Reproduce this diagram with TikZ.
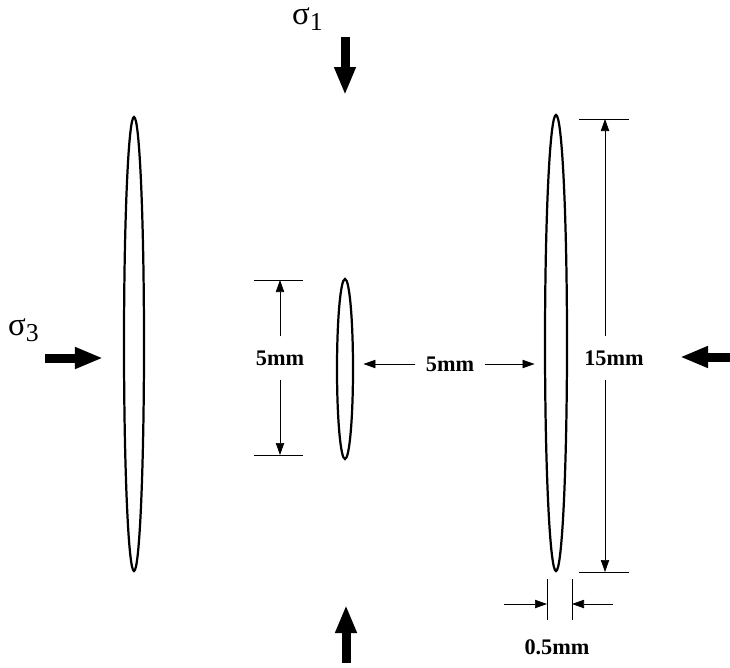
\documentclass[tikz,border=0pt]{standalone}
\usepackage{fontspec}
\setmainfont{Liberation Serif}
\usetikzlibrary{arrows.meta,shapes.geometric}

\newcommand\lowsub[1]{\raisebox{-0.18cm}{\fontsize{22}{22}\selectfont #1}}

\begin{document}
\begin{tikzpicture}[
  x=0.03cm,
  y=-0.03cm,
  crack/.style={draw=black,line width=1.9pt,ellipse,inner sep=0pt},
  dimline/.style={draw=black,line width=0.6pt},
  dimarrow/.style={dimline,-{Triangle[length=3.6mm,width=2.5mm]}},
  load/.style={draw=black,line width=0.27cm,-{Triangle[length=8.4mm,width=6mm]}},
  dimlabel/.style={font=\fontsize{19}{20}\selectfont\bfseries,inner sep=0pt,minimum height=1.29cm},
  stress/.style={font=\fontsize{28}{28}\selectfont,inner sep=0pt,anchor=base west}
]
\useasboundingbox (0,0) rectangle (730,667);

% Cracks
\node[crack,minimum width=0.6cm,minimum height=13.62cm] (leftcrack) at (134,344) {};
\node[crack,minimum width=0.48cm,minimum height=5.4cm] (midcrack) at (345,369) {};
\node[crack,minimum width=0.66cm,minimum height=13.68cm] (rightcrack) at (556,343) {};

% Stresses
\node[stress] (sig1) at (292,24) {σ\lowsub{1}};
\node[stress] (sig3) at (8,335) {σ\lowsub{3}};
\coordinate (topload) at (345,37);
\coordinate (botload) at (346,663);
\coordinate (leftload) at (45,358);
\coordinate (rightload) at (730,357);
\draw[load] (topload) -- ++(0,58);
\draw[load] (botload) -- ++(0,-58);
\draw[load] (leftload) -- ++(58,0);
\draw[load] (rightload) -- ++(-50,0);

% Length of the small crack
\coordinate (vtop) at (280,280);
\coordinate (vbot) at (280,455);
\draw[dimline] (vtop) ++(-26,0) -- ++(49,0);
\draw[dimline] (vbot) ++(-26,0) -- ++(49,0);
\node[dimlabel] (len5) at (280,358) {5mm};
\draw[dimarrow] (len5.north) -- (vtop);
\draw[dimarrow] (len5.south) -- (vbot);

% Spacing
\node[dimlabel,minimum width=2.07cm] (gap5) at (450,364) {5mm};
\draw[dimarrow,shorten >=0.28cm] (gap5.west) -- (gap5.west -| midcrack.east);
\draw[dimarrow,shorten >=0.28cm] (gap5.east) -- (gap5.east -| rightcrack.west);

% Length of the long crack
\coordinate (htop) at (605,119);
\coordinate (hbot) at (605,572);
\draw[dimline] (579,119) -- (629,119);
\draw[dimline] (579,572) -- (629,572);
\node[dimlabel] (len15) at (614,358) {15mm};
\draw[dimarrow] (len15.north -| htop) -- (htop);
\draw[dimarrow] (len15.south -| hbot) -- (hbot);

% Width
\coordinate (wleft) at (547,604);
\coordinate (wright) at (572,604);
\draw[dimline] (547,579) -- (547,620);
\draw[dimline] (572,579) -- (572,620);
\draw[dimarrow] (504,604) -- (wleft);
\draw[dimarrow] (613,604) -- (wright);
\node[dimlabel,minimum height=0pt] (wid05) at (557,647) {0.5mm};

\end{tikzpicture}
\end{document}
